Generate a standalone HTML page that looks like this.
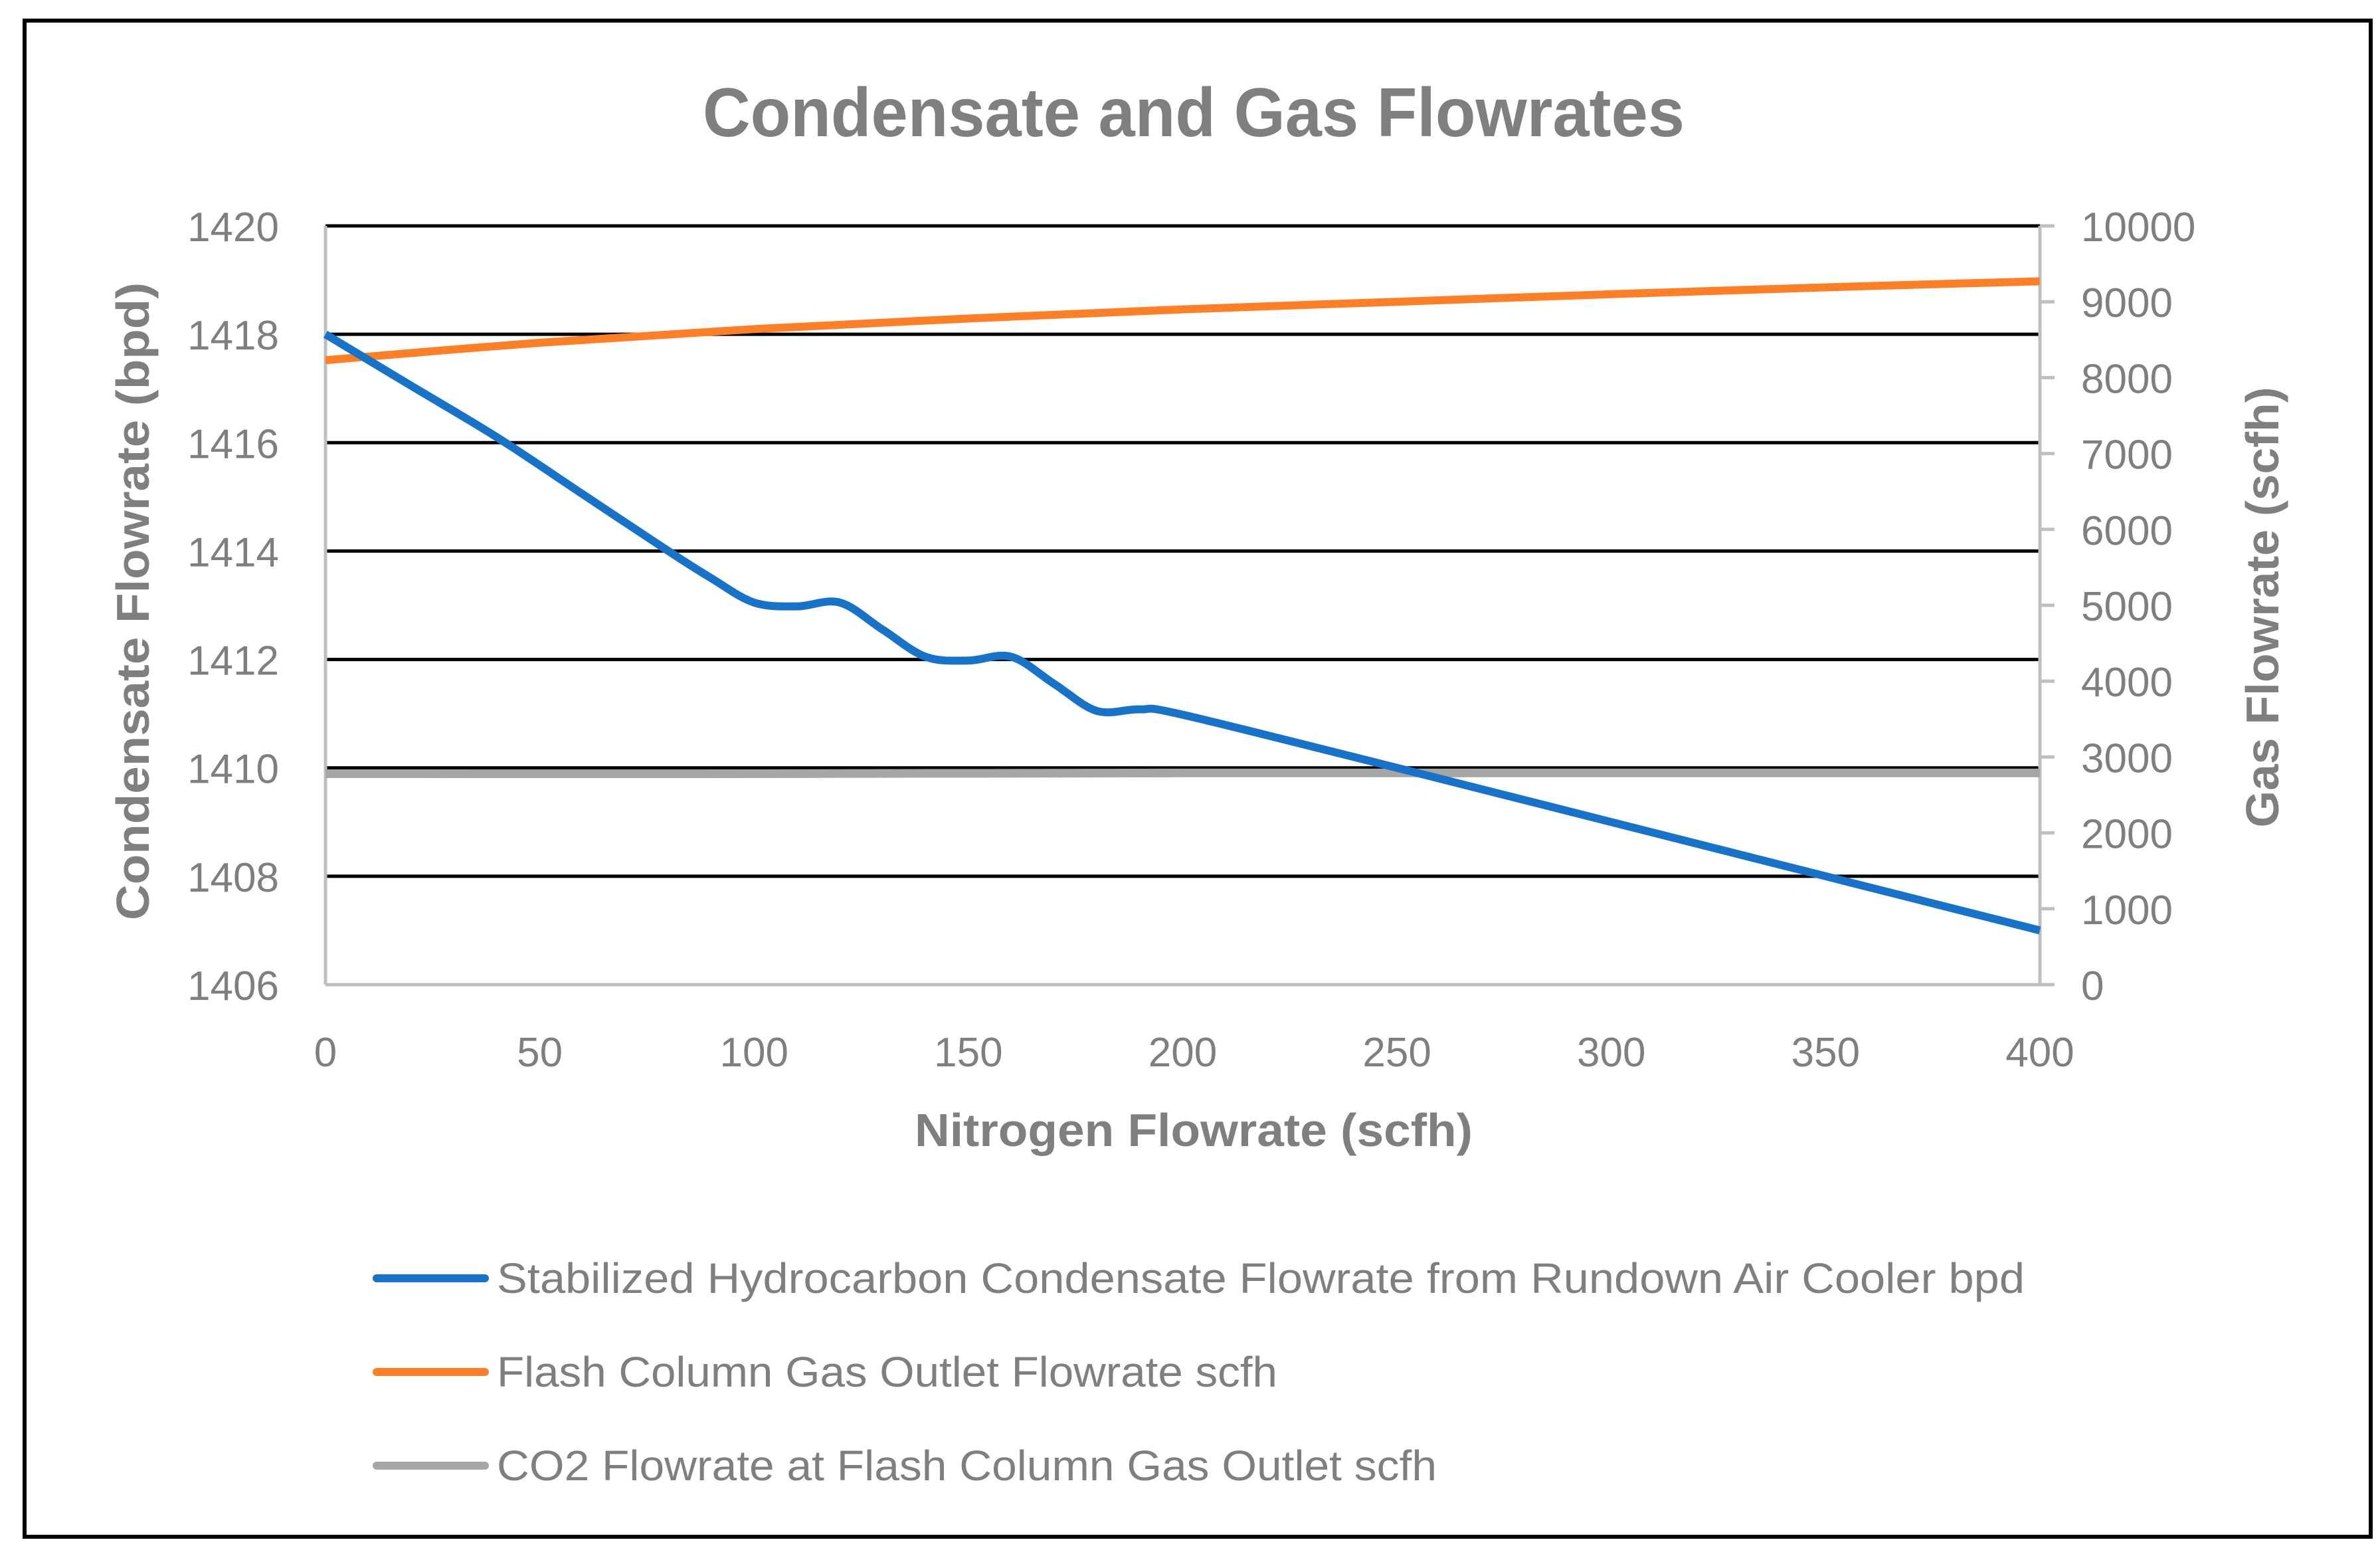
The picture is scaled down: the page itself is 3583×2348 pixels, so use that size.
<!DOCTYPE html>
<html><head><meta charset="utf-8"><style>
html,body{margin:0;padding:0;background:#fff}
svg{display:block}
text{font-family:"Liberation Sans",sans-serif;fill:#7f7f7f}
</style></head><body>
<svg id="chart" width="3583" height="2348" viewBox="0 0 3583 2348">
<rect x="37" y="31" width="3532" height="2282" fill="#fff" stroke="#000" stroke-width="6"/>
<text x="1797" y="205" text-anchor="middle" font-size="104" font-weight="bold" textLength="1478" lengthAdjust="spacingAndGlyphs">Condensate and Gas Flowrates</text>
<g id="grid"></g>
<g id="axes"></g>
<g id="series"></g>
<text x="1797" y="1725" text-anchor="middle" font-size="70" font-weight="bold" textLength="840" lengthAdjust="spacingAndGlyphs">Nitrogen Flowrate (scfh)</text>
<text transform="translate(224,905) rotate(-90)" text-anchor="middle" font-size="70" font-weight="bold" textLength="960" lengthAdjust="spacingAndGlyphs">Condensate Flowrate (bpd)</text>
<text transform="translate(3430,914) rotate(-90)" text-anchor="middle" font-size="70" font-weight="bold" textLength="663" lengthAdjust="spacingAndGlyphs">Gas Flowrate (scfh)</text>
<g id="legend"></g>
</svg>
<script>
const xTicks=[0,50,100,150,200,250,300,350,400];
const leftTicks=[1406,1408,1410,1412,1414,1416,1418,1420];
const rightTicks=[0,1000,2000,3000,4000,5000,6000,7000,8000,9000,10000];
const blueX=[0,20,40,60,80,90,100,110,120,130,140,150,160,170,180,190,200,250,300,350,400];
const blueY=[1418,1417.05,1416.1,1415.05,1414,1413.5,1413.05,1412.98,1413.05,1412.55,1412.05,1411.98,1412.05,1411.55,1411.05,1411.08,1410.98,1410,1409,1408,1407];
const orangeX=[0,50,100,150,200,250,300,350,400];
const orangeY=[8230,8460,8640,8780,8900,9000,9100,9190,9270];
const grayX=[0,100,200,300,400];
const grayY=[2780,2780,2790,2790,2790];
const legendLabels=["Stabilized Hydrocarbon Condensate Flowrate from Rundown Air Cooler bpd","Flash Column Gas Outlet Flowrate scfh","CO2 Flowrate at Flash Column Gas Outlet  scfh"];
const colors=["#1872c8","#fd7f27","#a6a6a6"];

const L=490,R=3071,T=340,B=1482;
const sx=v=>L+(v-0)/(400-0)*(R-L);
const syL=v=>B-(v-1406)/(1420-1406)*(B-T);
const syR=v=>B-(v-0)/(10000-0)*(B-T);
const NS="http://www.w3.org/2000/svg";
function mk(tag,attrs,parent){const e=document.createElementNS(NS,tag);for(const k in attrs)e.setAttribute(k,attrs[k]);parent.appendChild(e);return e;}
const grid=document.getElementById('grid'),axes=document.getElementById('axes'),series=document.getElementById('series'),legend=document.getElementById('legend');

leftTicks.forEach(v=>{
  if(v!==1406){const g=mk('line',{x1:L,x2:R,y1:syL(v),y2:syL(v),stroke:'#000','stroke-width':5},grid);
  
  }
  const t=mk('text',{x:420,y:syL(v)+23,'text-anchor':'end','font-size':62},axes);t.textContent=v;
  
  
});
rightTicks.forEach(v=>{
  const tk=mk('line',{x1:R,x2:R+22,y1:syR(v),y2:syR(v),stroke:'#bfbfbf','stroke-width':5},axes);
  
  
  const t=mk('text',{x:3133,y:syR(v)+23,'text-anchor':'start','font-size':62},axes);t.textContent=v;
  
  
});
xTicks.forEach(v=>{
  const t=mk('text',{x:sx(v),y:1605,'text-anchor':'middle','font-size':62},axes);t.textContent=v;
  
  
});
let a=mk('line',{x1:L,x2:L,y1:T,y2:B,stroke:'#bfbfbf','stroke-width':5},axes);


a=mk('line',{x1:R,x2:R,y1:T,y2:B,stroke:'#bfbfbf','stroke-width':5},axes);


a=mk('line',{x1:L,x2:R+22,y1:B,y2:B,stroke:'#bfbfbf','stroke-width':5},axes);



function smooth(pts){
  let d=`M${pts[0][0]},${pts[0][1]}`;
  for(let i=0;i<pts.length-1;i++){
    const p0=pts[Math.max(0,i-1)],p1=pts[i],p2=pts[i+1],p3=pts[Math.min(pts.length-1,i+2)];
    const c1=[p1[0]+(p2[0]-p0[0])/6,p1[1]+(p2[1]-p0[1])/6],c2=[p2[0]-(p3[0]-p1[0])/6,p2[1]-(p3[1]-p1[1])/6];
    d+=` C${c1[0]},${c1[1]} ${c2[0]},${c2[1]} ${p2[0]},${p2[1]}`;
  }
  return d;
}
let p=mk('path',{d:smooth(grayX.map((x,i)=>[sx(x),syR(grayY[i])])),fill:'none',stroke:colors[2],'stroke-width':13},series);


p=mk('path',{d:smooth(orangeX.map((x,i)=>[sx(x),syR(orangeY[i])])),fill:'none',stroke:colors[1],'stroke-width':12},series);


p=mk('path',{d:smooth(blueX.map((x,i)=>[sx(x),syL(blueY[i])])),fill:'none',stroke:colors[0],'stroke-width':12},series);



const lens=[2300,1175,1415];
legendLabels.forEach((lab,i)=>{
  const y=1924+i*141;
  const ln=mk('line',{x1:567,x2:730,y1:y,y2:y,stroke:colors[i],'stroke-width':12,'stroke-linecap':'round'},legend);
  
  
  const t=mk('text',{x:748,y:y+22,'font-size':64,textLength:lens[i],lengthAdjust:'spacingAndGlyphs'},legend);t.textContent=lab;
  
  
});
</script>
</body></html>
